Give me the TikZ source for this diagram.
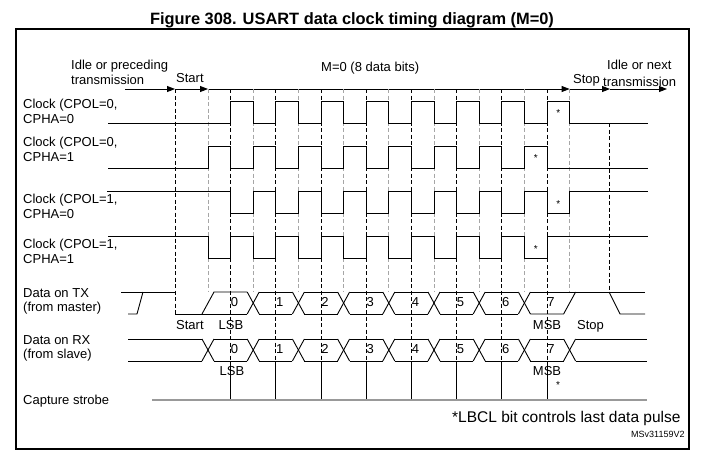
\documentclass[tikz,border=0pt]{standalone}
\usepackage{fontspec}
\setmainfont{Liberation Sans}
\usetikzlibrary{arrows.meta}
\begin{document}
\begin{tikzpicture}[x=1pt,y=-1pt,
  lbl/.style={font=\fontsize{13}{15}\selectfont, inner sep=0pt, anchor=base west},
  lblc/.style={font=\fontsize{13}{15}\selectfont, inner sep=0pt, anchor=base},
  wave/.style={line width=0.9pt, black},
  bdash/.style={line width=0.8pt, black, dash pattern=on 4pt off 2.5pt},
  gdash/.style={line width=1pt, gray!70, dash pattern=on 4pt off 2.5pt},
  tl/.style={line width=0.9pt, -{Triangle[length=8pt,width=6pt]}},
  star/.style={font=\fontsize{10}{11}\selectfont, inner sep=0pt, anchor=base}]
\useasboundingbox (0,0) rectangle (703,458);
\def\h{22.6}
\def\w{6}
% frame and title
\draw[line width=1.2pt] (16,29) rectangle (689,449);
\node[font=\bfseries\fontsize{16.4}{18}\selectfont, anchor=base, inner sep=0pt] (title) at (352,24) {Figure 308. USART data clock timing diagram (M=0)};
% timeline
\coordinate (tl0) at (125,89);
\coordinate (tl1) at (175,89);
\coordinate (tl2) at (208,89);
\coordinate (tl3) at ({208+16*\h},89);
\coordinate (tl4) at (610,89);
\coordinate (tl5) at (667,89);
\draw[tl] (tl0) -- (tl1);
\draw[tl] (tl1) -- (tl2);
\draw[tl] (tl2) -- (tl3);
\draw[tl] (tl3) -- (tl4);
\draw[tl] (tl4) -- (tl5);
% top labels
\node[lbl] (idle1) at (71,69.5) {Idle or preceding};
\node[lbl] (idle2) at (71,84.5) {transmission};
\node[lbl] (startT) at (176,82.5) {Start};
\node[lbl] (mbits) at (321,71.5) {M=0 (8 data bits)};
\node[lbl] (stopT) at (573,83.5) {Stop};
\node[lbl] (next1) at (607,69.5) {Idle or next};
\node[lbl] (next2) at (603,86.5) {transmission};
% left labels
\node[lbl] (c1a) at (23,108.5) {Clock (CPOL=0,};
\node[lbl] (c1b) at (23,123.5) {CPHA=0};
\node[lbl] (c2a) at (23,146.5) {Clock (CPOL=0,};
\node[lbl] (c2b) at (23,161.5) {CPHA=1};
\node[lbl] (c3a) at (23,203.5) {Clock (CPOL=1,};
\node[lbl] (c3b) at (23,218.5) {CPHA=0};
\node[lbl] (c4a) at (23,248.5) {Clock (CPOL=1,};
\node[lbl] (c4b) at (23,263.5) {CPHA=1};
\node[lbl] (txa) at (23,297.5) {Data on TX};
\node[lbl] (txb) at (23,311.5) {(from master)};
\node[lbl] (rxa) at (23,344.5) {Data on RX};
\node[lbl] (rxb) at (23,358.5) {(from slave)};
\node[lbl] (cap) at (23,404.5) {Capture strobe};
% dashed verticals
\draw[bdash] (175,89) -- (175,314);
\foreach \j in {0,...,8} \draw[gdash] ({208+2*\j*\h},89) -- ({208+2*\j*\h},292);
\foreach \j in {0,...,7} {
  \draw[bdash] ({208+(2*\j+1)*\h},89) -- ({208+(2*\j+1)*\h},361);
  \draw[line width=0.8pt] ({208+(2*\j+1)*\h},361) -- ({208+(2*\j+1)*\h},400);
}
\draw[bdash] (609,123) -- (609,292);
% clocks
\draw[wave] (108,123) \foreach \k in {0,...,7} { -- ({208+(2*\k+1)*\h},123) -- ({208+(2*\k+1)*\h},101) -- ({208+(2*\k+2)*\h},101) -- ({208+(2*\k+2)*\h},123) } -- (648,123);
\draw[wave] (108,168) \foreach \k in {0,...,7} { -- ({208+(2*\k)*\h},168) -- ({208+(2*\k)*\h},146) -- ({208+(2*\k+1)*\h},146) -- ({208+(2*\k+1)*\h},168) } -- (648,168);
\draw[wave] (107,191) \foreach \k in {0,...,7} { -- ({208+(2*\k+1)*\h},191) -- ({208+(2*\k+1)*\h},213) -- ({208+(2*\k+2)*\h},213) -- ({208+(2*\k+2)*\h},191) } -- (648,191);
\draw[wave] (108,236) \foreach \k in {0,...,7} { -- ({208+(2*\k)*\h},236) -- ({208+(2*\k)*\h},258) -- ({208+(2*\k+1)*\h},258) -- ({208+(2*\k+1)*\h},236) } -- (648,236);
\node[star] (s1) at ({208+15.5*\h},116.7) {*};
\node[star] (s2) at ({208+14.5*\h},161.7) {*};
\node[star] (s3) at ({208+15.5*\h},207.7) {*};
\node[star] (s4) at ({208+14.5*\h},252.7) {*};
% TX
\draw[wave] (121,292) -- (175,292);
\draw[wave] (128,314) -- (137,314) -- (143,292);
\draw[wave] (175,314) -- ({208+2*\h-\w},314);
\draw[wave] ({208-\w},314) -- ({208+\w},292) -- ({208+2*\h-\w},292);
\foreach \j in {1,...,7} {
  \draw[wave] ({208+2*\j*\h-\w},292) -- ({208+2*\j*\h+\w},314);
  \draw[wave] ({208+2*\j*\h-\w},314) -- ({208+2*\j*\h+\w},292);
}
\foreach \j in {1,...,6} {
  \draw[wave] ({208+2*\j*\h+\w},292) -- ({208+2*(\j+1)*\h-\w},292);
  \draw[wave] ({208+2*\j*\h+\w},314) -- ({208+2*(\j+1)*\h-\w},314);
}
\draw[wave] ({208+14*\h+\w},292) -- (645,292);
\draw[wave] ({208+14*\h+\w},314) -- ({208+16*\h-\w},314) -- ({208+16*\h+\w},292);
\draw[wave] (609,292) -- (620,314) -- (645,314);
% RX
\draw[wave] (128,339) -- ({208-\w},339);
\draw[wave] (128,361) -- ({208-\w},361);
\foreach \j in {0,...,8} {
  \draw[wave] ({208+2*\j*\h-\w},339) -- ({208+2*\j*\h+\w},361);
  \draw[wave] ({208+2*\j*\h-\w},361) -- ({208+2*\j*\h+\w},339);
}
\foreach \j in {0,...,7} {
  \draw[wave] ({208+2*\j*\h+\w},339) -- ({208+2*(\j+1)*\h-\w},339);
  \draw[wave] ({208+2*\j*\h+\w},361) -- ({208+2*(\j+1)*\h-\w},361);
}
\draw[wave] ({208+16*\h+\w},339) -- (647,339);
\draw[wave] ({208+16*\h+\w},361) -- (647,361);
% bit numbers
\foreach \k in {0,...,7} {
  \node[lblc] (tx\k) at ({208+(2*\k+1)*\h+4},306.5) {\k};
  \node[lblc] (rx\k) at ({208+(2*\k+1)*\h+4},353.5) {\k};
}
% data labels
\node[lbl] (startB) at (176,329.5) {Start};
\node[lblc] (lsb1) at (231,329.5) {LSB};
\node[lblc] (lsb2) at (232,375.5) {LSB};
\node[lblc] (msb1) at (547,329.5) {MSB};
\node[lblc] (msb2) at (547,375.5) {MSB};
\node[lbl] (stopB) at (577,329.5) {Stop};
\node[star] (s5) at (558,388.7) {*};
% capture strobe
\draw[line width=2pt, gray!80] (152,400) -- (647,400);
% notes
\node[font=\fontsize{15.5}{17}\selectfont, inner sep=0pt, anchor=base west] (note) at (452,422.5) {*LBCL bit controls last data pulse};
\node[font=\fontsize{9}{10}\selectfont, inner sep=0pt, anchor=base west] (ref) at (631,437.5) {MSv31159V2};
\end{tikzpicture}
\end{document}
